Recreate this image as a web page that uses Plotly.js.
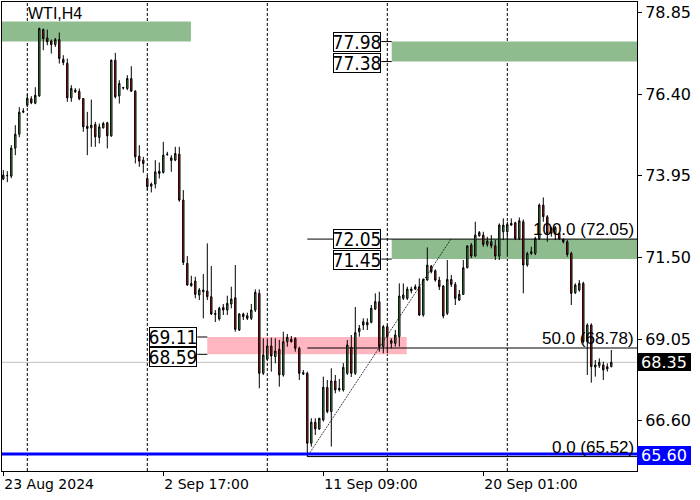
<!DOCTYPE html>
<html>
<head>
<meta charset="utf-8">
<script src="https://cdn.plot.ly/plotly-3.0.1.min.js"></script>
<style>html,body{margin:0;padding:0;background:#fff;}#chart{width:700px;height:500px;}</style>
</head>
<body>
<div id="chart"></div>
<script>
// ---- data (WTI, H4) ----
const openP = [73.85,73.95,73.94,74.78,75.20,75.86,76.07,76.26,76.13,76.35,78.34,78.09,78.00,77.89,78.04,77.45,77.33,76.29,76.52,76.48,
76.27,75.44,75.39,75.49,75.10,75.39,75.54,75.15,77.42,76.35,76.60,76.57,76.87,76.49,74.54,74.42,73.87,73.64,73.70,74.09,
74.05,74.59,74.49,74.42,74.60,73.22,71.32,70.65,70.79,70.37,70.52,70.49,70.32,69.82,69.65,70.00,69.92,70.10,70.29,69.32,
69.80,69.75,69.67,69.92,70.42,68.02,68.44,68.84,68.52,68.74,67.97,68.97,69.04,69.07,68.77,68.04,68.02,65.92,66.55,66.35,
66.62,67.60,66.87,67.79,67.52,67.52,68.02,68.80,68.02,69.27,69.57,69.47,69.55,69.95,70.17,68.82,69.42,68.92,68.92,69.12,
70.27,70.27,70.50,70.55,70.62,69.77,70.82,71.24,71.10,70.82,70.64,69.82,70.84,70.69,70.22,70.39,71.19,71.87,71.54,72.15,
72.17,71.89,71.97,71.85,71.54,72.27,72.27,72.47,72.54,72.07,72.57,71.27,71.62,71.62,72.07,73.07,72.72,72.37,72.22,72.22,
72.04,71.97,71.62,70.44,70.52,70.72,68.97,69.47,68.21,68.25,68.27,68.15,68.22];
const highP = [74.12,74.09,74.87,75.47,76.01,75.98,76.40,76.34,76.61,78.40,78.37,78.34,78.04,78.09,78.25,77.57,77.47,76.67,76.58,76.57,
76.27,75.87,76.24,75.57,75.52,75.57,75.57,77.44,77.64,76.82,76.62,76.97,77.24,76.52,74.87,74.52,73.97,73.75,74.42,74.35,
74.97,74.67,74.57,74.82,74.82,73.52,71.54,70.95,70.92,70.58,71.00,71.92,71.24,69.92,70.02,70.10,70.35,70.62,71.27,69.83,
69.84,69.84,70.10,70.54,70.54,69.07,69.07,69.09,69.07,69.02,69.27,69.20,69.14,69.10,68.82,68.12,68.07,66.67,66.67,66.68,
67.92,67.82,68.17,67.97,67.85,68.33,69.02,69.17,70.01,69.47,69.67,69.67,70.07,70.42,70.47,69.47,69.47,69.07,69.32,70.72,
70.72,70.62,70.62,70.69,70.87,70.87,71.80,71.27,71.14,70.92,70.67,71.42,70.97,70.76,70.52,71.42,71.87,71.93,72.57,72.29,
72.27,72.12,72.17,72.02,72.52,72.67,72.57,72.67,72.57,72.70,72.64,71.67,71.82,72.12,73.12,73.30,72.77,72.42,72.44,72.24,
72.07,72.02,71.67,70.72,70.82,70.77,69.52,69.52,68.42,68.47,68.37,68.32,68.72];
const lowP = [73.82,73.76,73.88,74.57,75.11,75.83,76.01,76.10,76.10,76.32,77.72,77.87,77.62,77.82,77.32,77.27,76.17,76.17,76.44,76.22,
75.27,74.57,74.82,74.82,74.92,75.37,74.77,75.12,76.27,76.12,76.54,76.52,76.47,74.32,74.22,74.04,73.52,73.45,73.57,73.87,
74.02,74.55,74.07,74.39,73.17,71.27,70.65,70.62,70.27,70.22,69.67,70.22,69.77,69.56,69.60,69.77,69.77,69.97,69.27,69.29,
69.62,69.62,69.62,69.86,67.57,67.97,68.42,68.07,68.32,67.62,67.92,68.82,68.94,68.67,67.82,67.97,65.52,65.82,66.17,66.32,
66.57,66.82,65.82,67.42,67.47,67.47,67.97,67.91,67.97,69.12,69.32,69.32,69.52,69.92,68.67,68.62,68.62,68.77,68.82,68.82,
70.22,70.22,70.42,70.52,69.74,69.72,70.80,71.02,70.77,70.52,69.67,69.77,70.61,70.07,70.19,70.37,71.17,71.48,71.52,72.12,
71.82,71.82,71.77,71.42,71.42,72.02,71.52,72.45,72.02,72.02,70.42,71.22,71.57,71.57,72.02,72.57,71.97,72.12,72.02,72.02,
71.92,71.52,70.07,70.40,70.47,68.92,67.97,67.74,67.92,68.18,67.82,68.07,68.20];
const closeP = [73.97,73.96,74.78,75.20,75.86,75.89,76.28,76.14,76.37,78.37,78.07,77.97,77.89,78.04,77.47,77.35,76.29,76.57,76.47,76.26,
75.42,75.37,75.47,75.12,75.42,75.52,75.15,77.42,76.32,76.72,76.59,76.87,76.49,74.52,74.39,74.32,73.62,73.70,74.07,74.02,
74.57,74.60,74.41,74.62,73.22,71.35,70.67,70.72,70.39,70.52,70.47,70.32,69.80,69.79,69.97,69.92,70.12,70.25,69.34,69.80,
69.72,69.67,69.92,70.45,68.02,68.57,68.84,68.54,68.69,67.97,68.97,69.10,68.97,68.77,68.02,68.00,65.92,66.55,66.35,66.67,
67.60,66.87,67.79,67.52,67.57,68.20,68.87,68.02,69.24,69.37,69.47,69.55,69.97,70.17,68.82,69.42,69.12,69.00,69.17,70.34,
70.37,70.55,70.55,70.62,69.77,70.84,71.27,71.07,70.82,70.62,69.74,70.84,70.69,70.27,70.39,71.19,71.84,71.54,72.17,72.25,
71.89,71.99,71.85,71.54,72.47,72.47,72.49,72.52,72.07,72.60,71.27,71.62,71.67,72.07,73.07,72.72,72.22,72.22,72.40,72.05,
71.97,71.59,70.42,70.67,70.72,68.97,69.47,68.22,68.27,68.35,68.12,68.22,68.35];

const xTickBars = [0, 40, 80, 120];
const xTickLabels = ['23 Aug 2024', '2 Sep 17:00', '11 Sep 09:00', '20 Sep 01:00'];
const weekStartBars = [6, 36, 66, 96, 126];
const yTickValues = [78.85, 76.40, 73.95, 71.50, 69.05, 66.60];

const zoneLow  = [77.98, 77.38, 71.45, 68.59];
const zoneHigh = [78.58, 77.98, 72.05, 69.11];
const zoneLabelPrices = [77.98, 77.38, 72.05, 71.45, 69.11, 68.59];
const fibLevels = [0.0, 50.0, 100.0];
const fibPrices = [65.52, 68.78, 72.05];
const lastPrice = 68.35;
const alertPrice = 65.60;
const symbolLabel = 'WTI,H4';

// ---- build ----
const bars = openP.map((_, i) => i);
const XMIN = -0.325, XMAX = 158.425;
const GREEN_ZONE = '#8fbc8f', PINK_ZONE = '#ffb6c1';

const trace = {
  type: 'candlestick', x: bars, open: openP, high: highP, low: lowP, close: closeP,
  increasing: {line: {color: '#000', width: 1}, fillcolor: '#4fb34f'},
  decreasing: {line: {color: '#000', width: 1}, fillcolor: '#dd1b1b'},
  whiskerwidth: 0, hoverinfo: 'skip', showlegend: false
};

const shapes = [];
// zones: [start bar, end bar]
const zoneSpan = [[XMIN, 46.9], [97.1, XMAX], [97.1, XMAX], [51.0, 100.85]];
const zoneColor = [GREEN_ZONE, GREEN_ZONE, GREEN_ZONE, PINK_ZONE];
zoneLow.forEach((lo, k) => shapes.push({type:'rect', layer:'below', xref:'x', yref:'y',
  x0: zoneSpan[k][0], x1: zoneSpan[k][1], y0: lo, y1: zoneHigh[k], fillcolor: zoneColor[k], line:{width:0}}));
// week separators
weekStartBars.forEach(b => shapes.push({type:'line', layer:'below', xref:'x', yref:'paper',
  x0:b, x1:b, y0:0, y1:1, line:{color:'#000', width:1, dash:'3px,2px'}}));
// current price line
shapes.push({type:'line', layer:'below', xref:'paper', yref:'y', x0:0, x1:1, y0:lastPrice, y1:lastPrice,
  line:{color:'#c0c0c0', width:1}});
// fib levels (start at swing low bar 76)
fibPrices.forEach(p => shapes.push({type:'line', layer:'below', xref:'x', yref:'y', x0:76, x1:XMAX, y0:p, y1:p,
  line:{color:'#000', width:1}}));
// fib trend line
shapes.push({type:'line', layer:'below', xref:'x', yref:'y', x0:76, x1:111.9, y0:fibPrices[0], y1:fibPrices[2],
  line:{color:'#000', width:1, dash:'1px,1px'}});
// connectors from labels to zones
[[94.5, 97.1, 77.98], [94.5, 97.1, 77.38], [94.5, 97.1, 71.45], [48.5, 51.0, 69.11], [48.5, 51.0, 68.59]].forEach(c =>
  shapes.push({type:'line', layer:'below', xref:'x', yref:'y', x0:c[0], x1:c[1], y0:c[2], y1:c[2], line:{color:'#000', width:1}}));
// alert line
shapes.push({type:'line', layer:'above', xref:'paper', yref:'y', x0:0, x1:1, y0:alertPrice, y1:alertPrice,
  line:{color:'#0000ff', width:3}});

const annotations = [];
annotations.push({xref:'x', yref:'paper', x:5.6, y:1, xanchor:'left', yanchor:'top', yshift:-1, showarrow:false,
  text: symbolLabel, font:{family:'Liberation Sans, Arial, sans-serif', size:16, color:'#000'}});
// zone price boxes
const boxRight = [94.5, 94.5, 94.5, 94.5, 48.5, 48.5];
const boxShift = [0, -1, 0, -1, 0, -3];
zoneLabelPrices.forEach((p, k) => annotations.push({xref:'x', yref:'y', x: boxRight[k], y: p, xanchor:'right', yanchor:'middle',
  yshift: boxShift[k], showarrow:false, text: p.toFixed(2), width:46, height:18, borderpad:0, borderwidth:1,
  bordercolor:'#000', bgcolor:'#fff',
  font:{family:'Liberation Sans Narrow, DejaVu Sans Condensed, Arial Narrow, sans-serif', size:19, color:'#000'}}));
// fib labels
fibLevels.forEach((lv, k) => annotations.push({xref:'x', yref:'y', x: XMAX, y: fibPrices[k], xanchor:'right', yanchor:'bottom',
  xshift:-1, yshift:-2, showarrow:false, text: lv.toFixed(1) + ' (' + fibPrices[k].toFixed(2) + ')',
  font:{family:'Liberation Sans, Arial, sans-serif', size:17, color:'#000'}}));
// right axis price tags
annotations.push({xref:'paper', yref:'y', x:1, y:lastPrice, xanchor:'left', yanchor:'middle', showarrow:false,
  text: lastPrice.toFixed(2), width:52, height:16, borderpad:0, borderwidth:1, bordercolor:'#000', bgcolor:'#000',
  font:{family:'DejaVu Sans, sans-serif', size:16, color:'#fff'}});
annotations.push({xref:'paper', yref:'y', x:1, y:alertPrice, xanchor:'left', yanchor:'middle', yshift:-2, showarrow:false,
  text: alertPrice.toFixed(2), width:52, height:17, borderpad:0, borderwidth:1, bordercolor:'#0000ff', bgcolor:'#0000ff',
  font:{family:'DejaVu Sans, sans-serif', size:16, color:'#fff'}});

const layout = {
  width:700, height:500, paper_bgcolor:'#fff', plot_bgcolor:'#fff', showlegend:false,
  margin:{l:2, r:63, t:2, b:29}, boxgap:0.5, hovermode:false,
  xaxis:{range:[XMIN, XMAX], showgrid:false, zeroline:false, showline:true, mirror:true, linecolor:'#000', linewidth:1,
    ticks:'outside', ticklen:4, tickcolor:'#000', tickvals:xTickBars, ticktext:xTickLabels,
    ticklabelposition:'outside right', tickfont:{family:'DejaVu Sans, sans-serif', size:14, color:'#000'},
    rangeslider:{visible:false}, fixedrange:true},
  yaxis:{side:'right', range:[65.087, 79.168], showgrid:false, zeroline:false, showline:true, mirror:true,
    linecolor:'#000', linewidth:1, ticks:'outside', ticklen:4, tickcolor:'#000',
    tickvals:yTickValues, ticktext:yTickValues.map(v => v.toFixed(2)),
    tickfont:{family:'DejaVu Sans, sans-serif', size:16, color:'#000'}, fixedrange:true},
  shapes: shapes, annotations: annotations
};

Plotly.newPlot('chart', [trace], layout, {staticPlot:true, displayModeBar:false});
</script>
</body>
</html>
